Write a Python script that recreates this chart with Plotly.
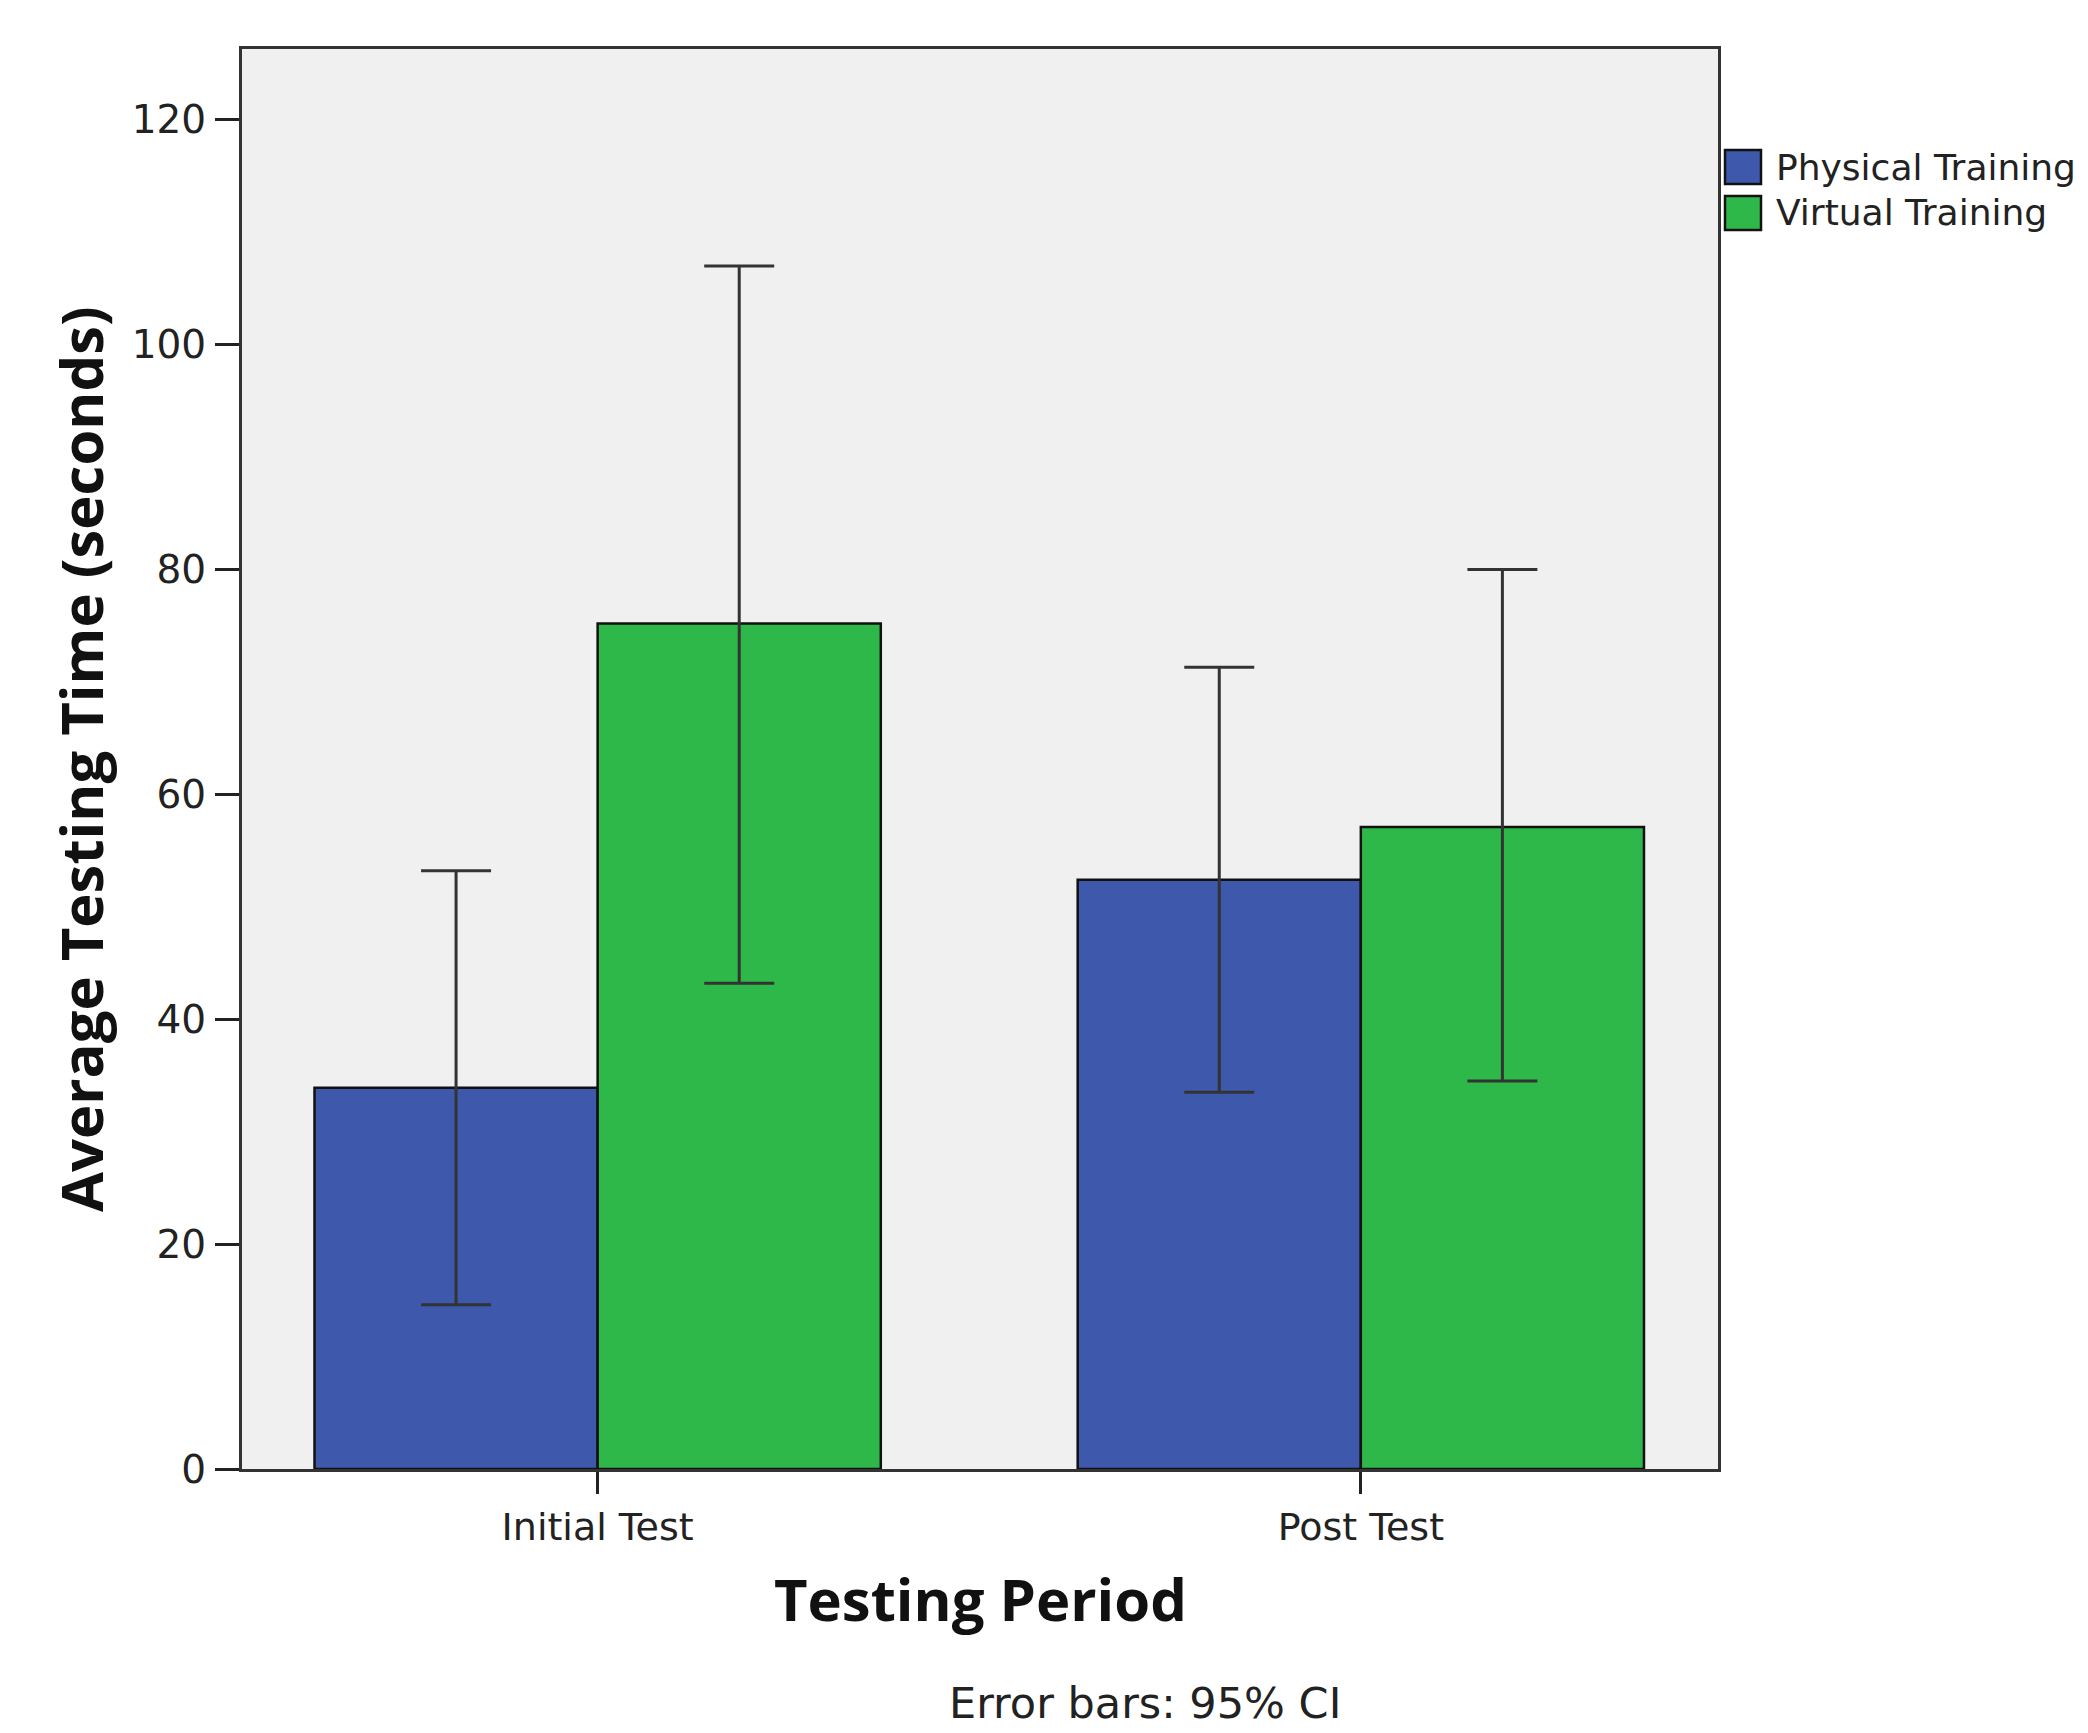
import plotly.graph_objects as go

categories = ["Initial Test", "Post Test"]
physical_mean = [33.9, 52.4]
physical_ci_low = [14.6, 33.5]
physical_ci_high = [53.2, 71.3]
virtual_mean = [75.2, 57.1]
virtual_ci_low = [43.2, 34.5]
virtual_ci_high = [107.0, 80.0]
y_ticks = [0, 20, 40, 60, 80, 100, 120]

BLUE = "#3e58ac"
GREEN = "#2fb84a"
FONT = "DejaVu Sans"
TITLE_FONT = "Open Sans"

OFF = 8  # page body margin
W, H = 2088 - OFF, 1733 - OFF
# plot area in reference (page) pixel coordinates
L, R, T, B = 242, 1718, 49, 1469


def px(x):
    return (x - L) / (R - L)


def py(y):
    return (B - y) / (B - T)


def err(mean, lo, hi, color="#333333"):
    return dict(type="data", symmetric=False,
                array=[h - m for h, m in zip(hi, mean)],
                arrayminus=[m - l for m, l in zip(mean, lo)],
                color=color, thickness=3, width=35)


fig = go.Figure()
fig.add_trace(go.Bar(x=categories, y=physical_mean, name="Physical Training",
                     marker=dict(color=BLUE, line=dict(color="#111111", width=2.5)),
                     error_y=err(physical_mean, physical_ci_low, physical_ci_high),
                     showlegend=False))
fig.add_trace(go.Bar(x=categories, y=virtual_mean, name="Virtual Training",
                     marker=dict(color=GREEN, line=dict(color="#111111", width=2.5)),
                     error_y=err(virtual_mean, virtual_ci_low, virtual_ci_high),
                     showlegend=False))

fig.update_layout(
    width=W, height=H,
    margin=dict(l=L - OFF, r=W - (R - OFF), t=T - OFF, b=H - (B - OFF), pad=0),
    paper_bgcolor="white", plot_bgcolor="#f0f0f0",
    barmode="group", bargap=0.258, bargroupgap=0,
    font=dict(family=FONT, color="#222222"),
)
fig.update_xaxes(range=[-0.466, 1.468], showline=True, mirror=True,
                 linecolor="#333333", linewidth=3, ticks="outside", ticklen=22,
                 tickwidth=3, tickcolor="#222222", showgrid=False,
                 tickfont=dict(family=FONT, size=38, color="#222222"))
fig.update_yaxes(range=[0, 126.3], tickvals=y_ticks, showline=True, mirror=True,
                 linecolor="#333333", linewidth=3, ticks="outside", ticklen=24,
                 tickwidth=3, tickcolor="#222222", showgrid=False, zeroline=False,
                 ticklabelstandoff=1,
                 tickfont=dict(family=FONT, size=39, color="#222222"))

ann = []
ann.append(dict(text="<b>Average Testing Time (seconds)</b>", xref="paper", yref="paper",
                x=px(80), y=py(759), textangle=-90, showarrow=False,
                xanchor="center", yanchor="middle",
                font=dict(family=TITLE_FONT, size=58, color="#111111")))
ann.append(dict(text="<b>Testing Period</b>", xref="paper", yref="paper",
                x=px(980), y=py(1598), showarrow=False,
                xanchor="center", yanchor="middle",
                font=dict(family=TITLE_FONT, size=58, color="#111111")))
ann.append(dict(text="Error bars: 95% CI", xref="paper", yref="paper",
                x=px(1145), y=py(1703), showarrow=False,
                xanchor="center", yanchor="middle",
                font=dict(family=FONT, size=43, color="#222222")))

# custom legend
legend_items = [("Physical Training", BLUE, 150, 184), ("Virtual Training", GREEN, 196, 230)]
shapes = []
for name, color, y0, y1 in legend_items:
    shapes.append(dict(type="rect", xref="paper", yref="paper",
                       x0=px(1725), x1=px(1761), y0=py(y1), y1=py(y0),
                       fillcolor=color, line=dict(color="#111111", width=2.5)))
    ann.append(dict(text=name, xref="paper", yref="paper", x=px(1774),
                    y=py((y0 + y1) / 2), xanchor="left", yanchor="middle",
                    showarrow=False, font=dict(family=FONT, size=36, color="#222222")))

fig.update_layout(annotations=ann, shapes=shapes)
fig.write_html("out.html")
